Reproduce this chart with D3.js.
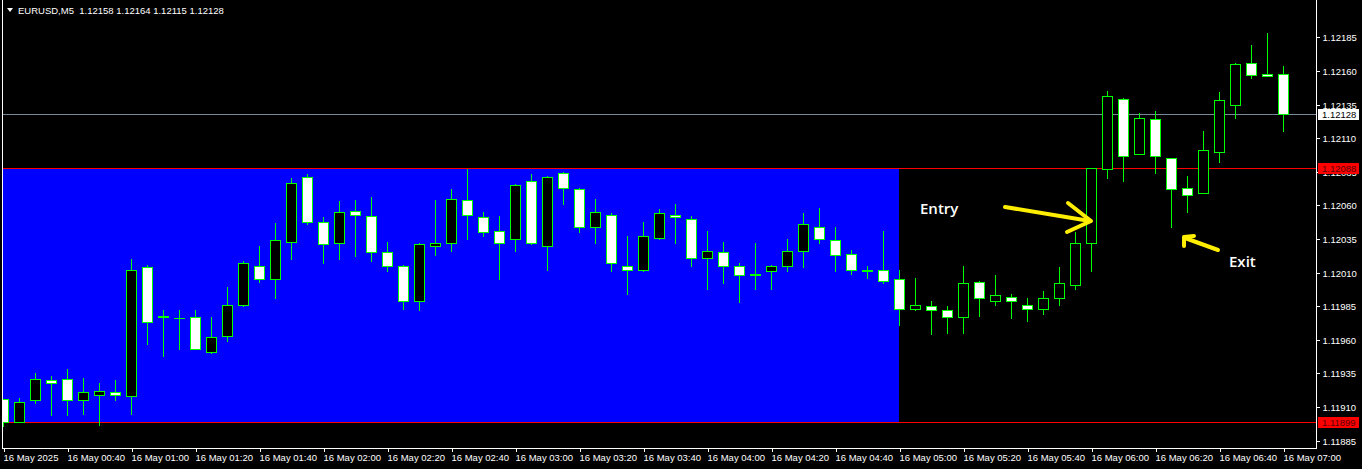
<!DOCTYPE html>
<html><head><meta charset="utf-8">
<script src="https://cdn.jsdelivr.net/npm/d3@7"></script>
<style>
html,body{margin:0;padding:0;background:#000;overflow:hidden}
svg{display:block}
text{font-family:"Liberation Sans",Arial,sans-serif}
</style></head><body>
<svg id="chart" width="1362" height="469"></svg>
<script>
const times = ["00:20","00:25","00:30","00:35","00:40","00:45","00:50","00:55",
"01:00","01:05","01:10","01:15","01:20","01:25","01:30","01:35","01:40","01:45","01:50","01:55",
"02:00","02:05","02:10","02:15","02:20","02:25","02:30","02:35","02:40","02:45","02:50","02:55",
"03:00","03:05","03:10","03:15","03:20","03:25","03:30","03:35","03:40","03:45","03:50","03:55",
"04:00","04:05","04:10","04:15","04:20","04:25","04:30","04:35","04:40","04:45","04:50","04:55",
"05:00","05:05","05:10","05:15","05:20","05:25","05:30","05:35","05:40","05:45","05:50","05:55",
"06:00","06:05","06:10","06:15","06:20","06:25","06:30","06:35","06:40","06:45","06:50","06:55","07:00"];
const opens = [1.11916,1.11899,1.11915,1.11930,1.11931,1.11915,1.11919,1.11921,1.11918,1.12014,
1.11978,1.11976,1.11977,1.11951,1.11963,1.11986,1.12015,1.12005,1.12033,1.12081,
1.12048,1.12032,1.12056,1.12052,1.12025,1.12015,1.11989,1.12030,1.12032,1.12064,
1.12051,1.12041,1.12035,1.12078,1.12030,1.12084,1.12072,1.12044,1.12053,1.12015,
1.12012,1.12036,1.12053,1.12050,1.12021,1.12025,1.12015,1.12009,1.12011,1.12015,
1.12026,1.12044,1.12034,1.12024,1.12011,1.12012,1.12005,1.11983,1.11985,1.11982,
1.11977,1.12003,1.11989,1.11992,1.11986,1.11983,1.11991,1.12001,1.12032,1.12087,
1.12139,1.12098,1.12124,1.12095,1.12073,1.12069,1.12100,1.12135,1.12166,1.12158,1.12158];
const highs = [1.11916,1.11917,1.11935,1.11933,1.11938,1.11932,1.11928,1.11930,1.12020,1.12016,
1.11982,1.11982,1.11982,1.11977,1.11999,1.12019,1.12030,1.12047,1.12080,1.12083,
1.12051,1.12063,1.12064,1.12066,1.12033,1.12016,1.12032,1.12064,1.12072,1.12087,
1.12055,1.12052,1.12076,1.12083,1.12082,1.12085,1.12073,1.12065,1.12054,1.12037,
1.12048,1.12057,1.12061,1.12052,1.12041,1.12033,1.12017,1.12032,1.12016,1.12035,
1.12054,1.12058,1.12044,1.12027,1.12015,1.12041,1.12012,1.12006,1.11989,1.11985,
1.12015,1.12004,1.12008,1.11994,1.11991,1.11996,1.12014,1.12040,1.12088,1.12145,
1.12140,1.12129,1.12130,1.12095,1.12082,1.12115,1.12144,1.12166,1.12179,1.12188,1.12164];
const lows = [1.11896,1.11899,1.11913,1.11904,1.11904,1.11905,1.11897,1.11915,1.11905,1.11957,
1.11948,1.11953,1.11953,1.11950,1.11959,1.11985,1.12003,1.11991,1.12020,1.12046,
1.12017,1.12020,1.12022,1.12019,1.12011,1.11983,1.11982,1.12023,1.12026,1.12035,
1.12037,1.12005,1.12026,1.12031,1.12012,1.12061,1.12040,1.12032,1.12011,1.11994,
1.12011,1.12035,1.12032,1.12015,1.11998,1.12002,1.11988,1.11998,1.11998,1.12011,
1.12014,1.12032,1.12011,1.12009,1.12006,1.12002,1.11971,1.11982,1.11964,1.11965,
1.11965,1.11978,1.11986,1.11976,1.11974,1.11979,1.11986,1.11998,1.12011,1.12080,
1.12078,1.12098,1.12084,1.12044,1.12055,1.12069,1.12092,1.12125,1.12155,1.12156,1.12115];
const closes = [1.11899,1.11914,1.11931,1.11928,1.11915,1.11921,1.11922,1.11919,1.12012,1.11973,
1.11977,1.11976,1.11953,1.11962,1.11986,1.12017,1.12005,1.12034,1.12077,1.12048,
1.12031,1.12055,1.12053,1.12025,1.12015,1.11989,1.12031,1.12032,1.12065,1.12053,
1.12040,1.12032,1.12075,1.12032,1.12081,1.12073,1.12044,1.12055,1.12017,1.12012,
1.12037,1.12054,1.12051,1.12021,1.12026,1.12015,1.12008,1.12008,1.12015,1.12026,
1.12046,1.12035,1.12023,1.12012,1.12012,1.12004,1.11983,1.11986,1.11982,1.11977,
1.12002,1.11991,1.11993,1.11989,1.11983,1.11991,1.12002,1.12032,1.12088,1.12141,
1.12097,1.12125,1.12097,1.12072,1.12068,1.12101,1.12138,1.12165,1.12157,1.12156,1.12128];
const timeTicks = ["00:20","00:40","01:00","01:20","01:40","02:00","02:20","02:40","03:00","03:20",
"03:40","04:00","04:20","04:40","05:00","05:20","05:40","06:00","06:20","06:40","07:00"];
const timeTickLabels = ["16 May 2025","16 May 00:40","16 May 01:00","16 May 01:20","16 May 01:40",
"16 May 02:00","16 May 02:20","16 May 02:40","16 May 03:00","16 May 03:20","16 May 03:40",
"16 May 04:00","16 May 04:20","16 May 04:40","16 May 05:00","16 May 05:20","16 May 05:40",
"16 May 06:00","16 May 06:20","16 May 06:40","16 May 07:00"];
const priceTicks = [1.11885,1.11910,1.11935,1.11960,1.11985,1.12010,1.12035,1.12060,1.12085,
1.12110,1.12135,1.12160,1.12185];
const zoneStart = "00:20", zoneEnd = "05:00";
const zoneHigh = 1.12088, zoneLow = 1.11899;
const bidPrice = 1.12128;
const headerText = "EURUSD,M5  1.12158 1.12164 1.12115 1.12128";

const svg = d3.select("#chart");
const W = 1362, H = 469;
const plotL = 2, plotR = 1316, plotB = 448;

const x = d3.scalePoint().domain(times).range([3, 1283]);
const y = d3.scaleLinear().domain([1.11885, 1.12185]).range([440.7, 37.3]);
const ry = v => Math.round(y(v));

svg.append("rect").attr("width", W).attr("height", H).attr("fill", "#000");

const defs = svg.append("defs");
defs.append("clipPath").attr("id", "plot").append("rect")
  .attr("x", plotL + 1).attr("y", 0).attr("width", plotR - plotL - 1).attr("height", plotB);

const plot = svg.append("g").attr("clip-path", "url(#plot)").attr("shape-rendering", "crispEdges");

// blue range rectangle
plot.append("rect")
  .attr("x", 0).attr("y", ry(zoneHigh))
  .attr("width", x(zoneEnd) - 0)
  .attr("height", ry(zoneLow) - ry(zoneHigh))
  .attr("fill", "#0000ff");

// horizontal level lines
[[zoneHigh, "#ff0000"], [zoneLow, "#ff0000"], [bidPrice, "#778899"]].forEach(([p, c]) => {
  plot.append("line").attr("x1", 0).attr("x2", plotR)
    .attr("y1", ry(p) + 0.5).attr("y2", ry(p) + 0.5)
    .attr("stroke", c).attr("stroke-width", 1);
});

// candles
const idx = d3.range(times.length);
const cg = plot.append("g");
idx.forEach(i => {
  const cx = x(times[i]);
  const o = opens[i], c = closes[i], h = highs[i], l = lows[i];
  cg.append("line").attr("x1", cx + 0.5).attr("x2", cx + 0.5)
    .attr("y1", ry(h)).attr("y2", ry(l) + 1)
    .attr("stroke", "#00ff00").attr("stroke-width", 1);
  const top = ry(Math.max(o, c)), bot = ry(Math.min(o, c));
  if (bot - top < 1) {
    cg.append("line").attr("x1", cx - 5).attr("x2", cx + 6)
      .attr("y1", top + 0.5).attr("y2", top + 0.5)
      .attr("stroke", "#00ff00").attr("stroke-width", 1);
  } else {
    cg.append("rect").attr("x", cx - 4.5).attr("y", top + 0.5)
      .attr("width", 10).attr("height", bot - top)
      .attr("fill", c >= o ? "#000000" : "#ffffff")
      .attr("stroke", "#00ff00").attr("stroke-width", 1);
  }
});

// frame
const frame = svg.append("g").attr("shape-rendering", "crispEdges").attr("stroke", "#ffffff");
frame.append("line").attr("x1", plotL + 0.5).attr("x2", plotL + 0.5).attr("y1", 0).attr("y2", plotB + 1);
frame.append("line").attr("x1", plotR + 0.5).attr("x2", plotR + 0.5).attr("y1", 0).attr("y2", plotB + 1);
frame.append("line").attr("x1", plotL).attr("x2", plotR + 1).attr("y1", plotB + 0.5).attr("y2", plotB + 0.5);

// price axis
const yAxis = d3.axisRight(y).tickValues(priceTicks).tickSize(3).tickPadding(3)
  .tickFormat(d3.format(".5f"));
const ya = svg.append("g").attr("transform", `translate(${plotR + 0.5},0)`).call(yAxis);
ya.select(".domain").remove();
ya.selectAll(".tick line").attr("stroke", "#fff").attr("shape-rendering", "crispEdges");
ya.selectAll(".tick").attr("transform", d => `translate(0,${ry(d) + 0.5})`);
ya.selectAll(".tick text").attr("fill", "#fff").style("font-size", "9.5px")
  .style("font-family", '"Liberation Sans",Arial,sans-serif');

// time axis
const labelMap = new Map(timeTicks.map((t, k) => [t, timeTickLabels[k]]));
const xAxis = d3.axisBottom(x).tickValues(timeTicks).tickSize(3).tickPadding(2)
  .tickFormat(t => labelMap.get(t));
const xa = svg.append("g").attr("transform", `translate(0.5,${plotB + 0.5})`).call(xAxis);
xa.select(".domain").remove();
xa.selectAll(".tick line").attr("stroke", "#fff").attr("shape-rendering", "crispEdges");
xa.selectAll(".tick text").attr("fill", "#fff").attr("text-anchor", "start")
  .attr("x", -0.5).attr("y", 0).attr("dy", "12.2px").style("font-size", "9.5px")
  .style("font-family", '"Liberation Sans",Arial,sans-serif');

// price label boxes
[[bidPrice, "#ffffff", "#000000"], [zoneHigh, "#ff0000", "#5a0000"], [zoneLow, "#ff0000", "#5a0000"]].forEach(([p, bg, fg]) => {
  const yy = ry(p);
  svg.append("rect").attr("x", 1318).attr("y", yy - 5).attr("width", 41).attr("height", 11)
    .attr("fill", bg).attr("shape-rendering", "crispEdges");
  svg.append("text").attr("x", 1322).attr("y", yy + 0.5).attr("dy", "0.34em")
    .attr("fill", fg).style("font-size", "9.5px").text(d3.format(".5f")(p));
});

// header
svg.append("path").attr("d", "M7,8 L13,8 L10,12 Z").attr("fill", "#fff");
svg.append("text").attr("x", 18).attr("y", 14).attr("fill", "#fff")
  .style("font-size", "9.5px").style("white-space", "pre").text(headerText);

// annotations
const ann = svg.append("g");
ann.append("text").attr("x", 920).attr("y", 214).attr("fill", "#fff")
  .style("font-family", '"Open Sans",sans-serif').style("font-size", "15px").style("font-weight", 600)
  .text("Entry");
ann.append("text").attr("x", 1229).attr("y", 267).attr("fill", "#fff")
  .style("font-family", '"Open Sans",sans-serif').style("font-size", "15px").style("font-weight", 600)
  .text("Exit");
const yel = "#ffee00";
const arrow = (pts) => ann.append("path").attr("d", d3.line()(pts)).attr("fill", "none")
  .attr("stroke", yel).attr("stroke-width", 4).attr("stroke-linecap", "round").attr("stroke-linejoin", "round");
arrow([[1005, 207], [1090, 221]]);
arrow([[1068, 203], [1091, 221], [1067, 232]]);
arrow([[1218, 250], [1185, 238]]);
arrow([[1184, 246], [1184, 237], [1194, 236]]);
</script>
</body></html>
